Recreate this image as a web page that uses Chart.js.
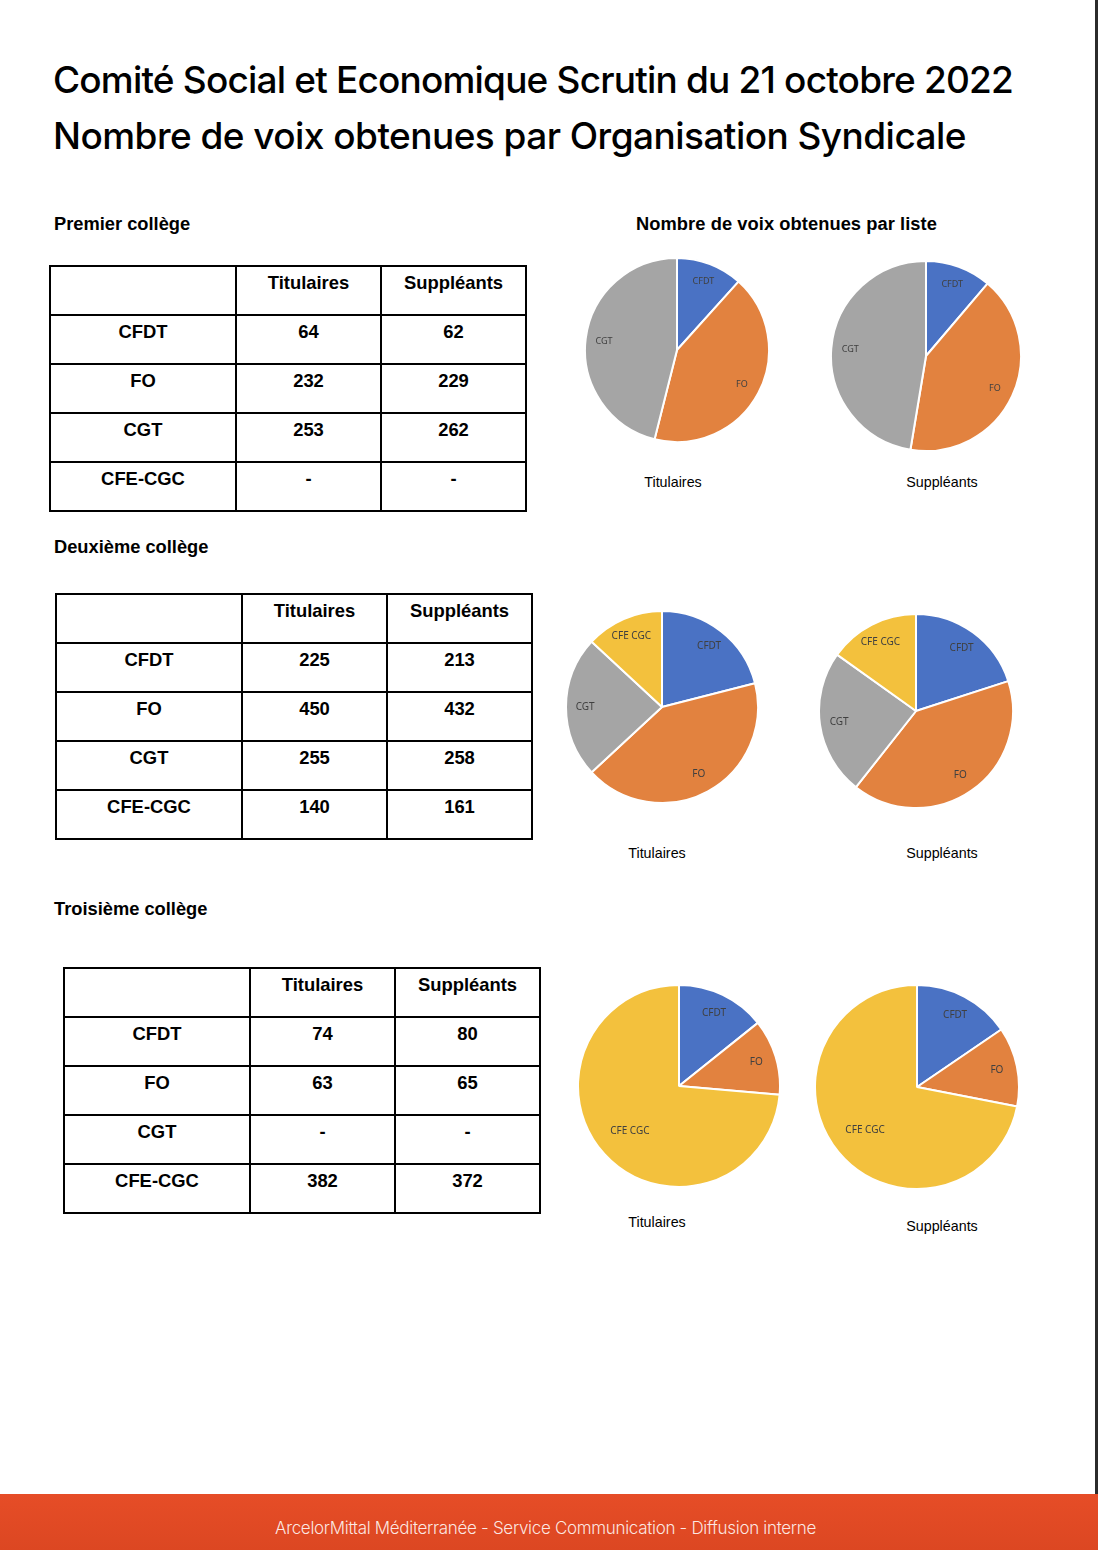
<!DOCTYPE html>
<html lang="fr">
<head>
<meta charset="utf-8">
<title>CSE - Scrutin du 21 octobre 2022</title>
<script src="https://cdn.jsdelivr.net/npm/chart.js@4.4.1/dist/chart.umd.min.js"></script>
<style>
  html, body { margin: 0; padding: 0; background: #fff; }
  #page { position: relative; width: 1098px; height: 1550px; overflow: hidden;
          font-family: "Liberation Sans", Arial, sans-serif; color: #000; }
  .title { position: absolute; left: 53px; font-family: Inter, "Noto Sans", sans-serif;
           font-weight: 500; font-size: 37px; line-height: 40px; white-space: nowrap; }
  .section { position: absolute; font-weight: bold; font-size: 18.3px; line-height: 20px; white-space: nowrap; }
  table.votes { position: absolute; border-collapse: collapse; table-layout: fixed; }
  table.votes td { border: 2px solid #000; height: 41px; padding: 6px 0 0 0; vertical-align: top;
                   text-align: center; font-weight: bold; font-size: 18.4px; line-height: 20px; }
  .pie { position: absolute; }
  .caption { position: absolute; font-size: 14.3px; line-height: 16px; transform: translateX(-50%); white-space: nowrap; }
  #edge { position: absolute; left: 1095px; top: 0; width: 3px; height: 1494px; background: #2b2b2b; }
  #footer { position: absolute; left: 0; top: 1494px; width: 1098px; height: 56px;
            background: linear-gradient(#e64d27, #dc4722); }
  #footer span { position: absolute; left: 275px; top: 24px; font-family: Inter, "Noto Sans", sans-serif;
                 font-weight: 300; font-size: 17px; line-height: 20px; color: rgba(255,255,255,0.88); white-space: nowrap; }
</style>
</head>
<body>
<div id="page">
  <div class="title" id="t1" style="top:60px">Comité Social et Economique Scrutin du 21 octobre 2022</div>
  <div class="title" id="t2" style="top:116px">Nombre de voix obtenues par Organisation Syndicale</div>

  <div class="section" id="pieTitle" style="left:636px; top:214px">Nombre de voix obtenues par liste</div>

  <div id="edge"></div>
  <div id="footer"><span id="foot">ArcelorMittal Méditerranée - Service Communication - Diffusion interne</span></div>
</div>

<script>
// ── Data ──
const ORGS       = ['CFDT', 'FO', 'CGT', 'CFE-CGC'];
const PIE_LABELS = ['CFDT', 'FO', 'CGT', 'CFE CGC'];
const COLUMNS    = ['Titulaires', 'Suppléants'];
const COLLEGES   = ['Premier collège', 'Deuxième collège', 'Troisième collège'];

// null = pas de liste ("-")
const COLLEGE1_TITULAIRES = [64, 232, 253, null];
const COLLEGE1_SUPPLEANTS = [62, 229, 262, null];
const COLLEGE2_TITULAIRES = [225, 450, 255, 140];
const COLLEGE2_SUPPLEANTS = [213, 432, 258, 161];
const COLLEGE3_TITULAIRES = [74, 63, null, 382];
const COLLEGE3_SUPPLEANTS = [80, 65, null, 372];

const COLORS = ['#4a72c4', '#e2823f', '#a5a5a5', '#f3c13d'];

// ── Layout (page coordinates) ──
const SECTIONS = [
  { label: [54, 214],  table: [49, 265], pies: [[677, 350, 92, 673, 474], [926, 356, 95, 942, 474]], size: 9,
    tit: COLLEGE1_TITULAIRES, sup: COLLEGE1_SUPPLEANTS },
  { label: [54, 537],  table: [55, 593], pies: [[662, 707, 96, 657, 845], [916, 711, 97, 942, 845]], size: 10,
    tit: COLLEGE2_TITULAIRES, sup: COLLEGE2_SUPPLEANTS },
  { label: [54, 899],  table: [63, 967], pies: [[679, 1086, 101, 657, 1214], [917, 1087, 102, 942, 1218]], size: 10,
    tit: COLLEGE3_TITULAIRES, sup: COLLEGE3_SUPPLEANTS }
];

const page = document.getElementById('page');

function fmt(v) { return v == null ? '-' : String(v); }

// ── Tables ──
function buildTable(sec) {
  const t = document.createElement('table');
  t.className = 'votes';
  t.style.left = sec.table[0] + 'px';
  t.style.top = sec.table[1] + 'px';
  const widths = [186, 145, 145];
  const cg = document.createElement('colgroup');
  widths.forEach(w => { const c = document.createElement('col'); c.style.width = w + 'px'; cg.appendChild(c); });
  t.appendChild(cg);
  let html = '<tr><td></td>' + COLUMNS.map(c => `<td>${c}</td>`).join('') + '</tr>';
  ORGS.forEach((o, i) => {
    html += `<tr><td>${o}</td><td>${fmt(sec.tit[i])}</td><td>${fmt(sec.sup[i])}</td></tr>`;
  });
  t.insertAdjacentHTML('beforeend', html);
  page.appendChild(t);
}

// ── Slice labels plugin ──
const sliceLabels = {
  id: 'sliceLabels',
  afterDatasetsDraw(chart, args, opts) {
    const ctx = chart.ctx;
    const data = chart.data.datasets[0].data;
    const total = data.reduce((a, b) => a + b, 0);
    ctx.save();
    ctx.font = `${opts.size}px "Noto Sans", "Open Sans", sans-serif`;
    ctx.fillStyle = '#404040';
    ctx.textAlign = 'center';
    ctx.textBaseline = 'middle';
    chart.getDatasetMeta(0).data.forEach((arc, i) => {
      if (!data[i]) return;
      const p = arc.getProps(['x', 'y', 'startAngle', 'endAngle', 'outerRadius'], true);
      const mid = (p.startAngle + p.endAngle) / 2;
      const k = data[i] / total > 0.6 ? 0.66 : 0.8;
      ctx.fillText(chart.data.labels[i], p.x + Math.cos(mid) * p.outerRadius * k,
                   p.y + Math.sin(mid) * p.outerRadius * k);
    });
    ctx.restore();
  }
};

function buildPie(values, pos, size, caption) {
  const [cx, cy, r, capX, capY] = pos;
  const box = 2 * r + 2;
  const wrap = document.createElement('div');
  wrap.className = 'pie';
  Object.assign(wrap.style, { left: (cx - box / 2) + 'px', top: (cy - box / 2) + 'px', width: box + 'px', height: box + 'px' });
  const cv = document.createElement('canvas');
  wrap.appendChild(cv);
  page.appendChild(wrap);

  const cap = document.createElement('div');
  cap.className = 'caption';
  cap.textContent = caption;
  Object.assign(cap.style, { left: capX + 'px', top: capY + 'px' });
  page.appendChild(cap);

  new Chart(cv, {
    type: 'pie',
    data: {
      labels: PIE_LABELS,
      datasets: [{
        data: values.map(v => v == null ? 0 : v),
        backgroundColor: COLORS,
        borderColor: '#fff',
        borderWidth: 2,
        hoverOffset: 0
      }]
    },
    options: {
      responsive: true,
      maintainAspectRatio: false,
      animation: false,
      layout: { padding: 0 },
      plugins: {
        legend: { display: false },
        tooltip: { enabled: false },
        sliceLabels: { size }
      }
    },
    plugins: [sliceLabels]
  });
}

SECTIONS.forEach((sec, i) => {
  const lab = document.createElement('div');
  lab.className = 'section';
  lab.textContent = COLLEGES[i];
  Object.assign(lab.style, { left: sec.label[0] + 'px', top: sec.label[1] + 'px' });
  page.appendChild(lab);
  buildTable(sec);
  buildPie(sec.tit, sec.pies[0], sec.size, COLUMNS[0]);
  buildPie(sec.sup, sec.pies[1], sec.size, COLUMNS[1]);
});

// ── Fit heading/footer text to the widths of the original ──
function fitWidth(el, target) {
  const n = el.textContent.length;
  const w = el.getBoundingClientRect().width;
  el.style.letterSpacing = ((target - w) / n) + 'px';
}
fitWidth(document.getElementById('t1'), 960);
fitWidth(document.getElementById('t2'), 913);
fitWidth(document.getElementById('foot'), 541);
fitWidth(document.getElementById('pieTitle'), 301);
</script>
</body>
</html>
